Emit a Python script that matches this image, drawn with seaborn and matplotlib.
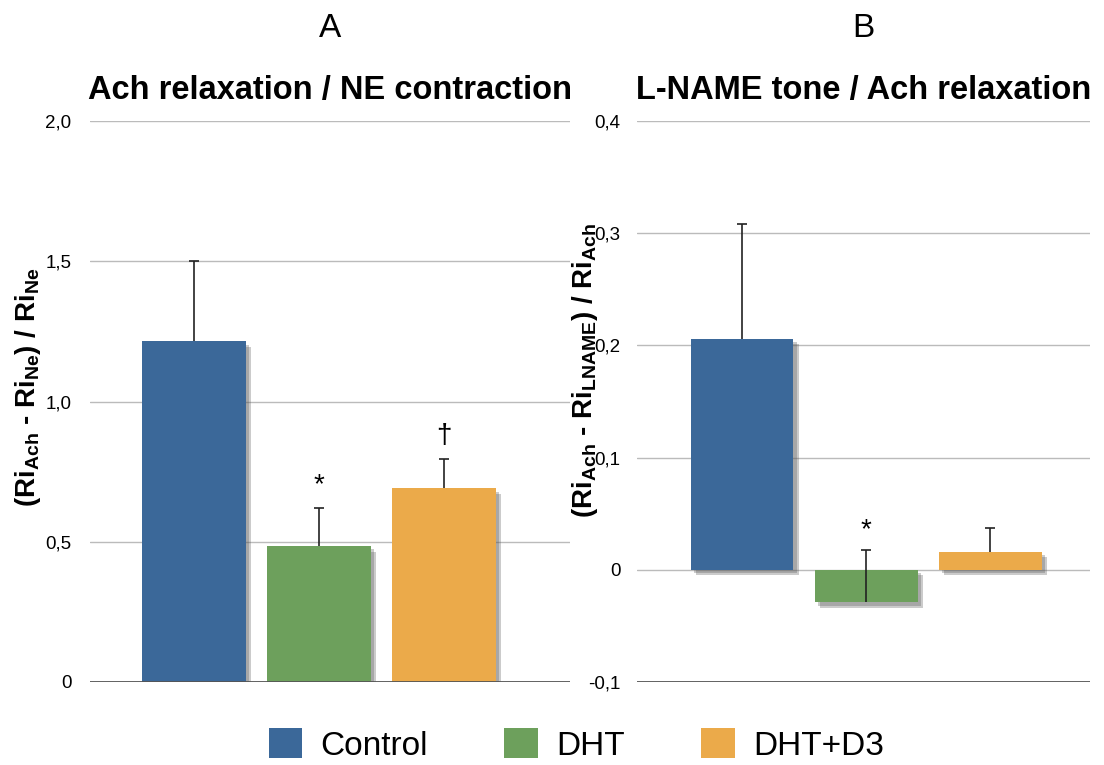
import matplotlib
matplotlib.use("Agg")
import matplotlib.pyplot as plt
import matplotlib.patheffects as pe
from matplotlib.patches import Patch
from matplotlib.ticker import FixedLocator
import seaborn as sns
import pandas as pd
import numpy as np

# ---- data ----
groups = ["Control", "DHT", "DHT+D3"]
colors = ["#3B6899", "#6DA05C", "#EBAA4A"]

a_values = [1.215, 0.485, 0.69]
a_errors = [0.285, 0.135, 0.105]
a_marks = ["", "*", "†"]
a_ticks = [0, 0.5, 1.0, 1.5, 2.0]
a_ticklabels = ["0", "0,5", "1,0", "1,5", "2,0"]

b_values = [0.206, -0.029, 0.016]
b_errors = [0.102, 0.047, 0.021]
b_marks = ["", "*", ""]
b_ticks = [-0.1, 0, 0.1, 0.2, 0.3, 0.4]
b_ticklabels = ["-0,1", "0", "0,1", "0,2", "0,3", "0,4"]

sns.set_theme(style="white")
plt.rcParams["font.family"] = ["Liberation Sans", "DejaVu Sans"]
plt.rcParams["mathtext.default"] = "regular"
plt.rcParams["text.color"] = "black"

fig = plt.figure(figsize=(11.04, 7.65), dpi=100)
axA = fig.add_axes([90 / 1104, 1 - 682 / 765, 480 / 1104, 561 / 765])
axB = fig.add_axes([637 / 1104, 1 - 682 / 765, 453 / 1104, 561 / 765])


def draw(ax, values, errors, marks, ticks, ticklabels, ylim, xlim, letter, title,
         ylabel, mark_offset, label_x, label_y, pad):
    df = pd.DataFrame({"group": groups, "value": values})
    sns.barplot(data=df, x="group", y="value", hue="group", palette=colors,
                width=0.83, legend=False, ax=ax, zorder=3, saturation=1,
                edgecolor="none", linewidth=0)
    for p in ax.patches:
        p.set_path_effects([pe.SimplePatchShadow(offset=(4, -4), shadow_rgbFace="#555555", alpha=0.3),
                            pe.SimplePatchShadow(offset=(2.5, -2.5), shadow_rgbFace="#555555", alpha=0.3),
                            pe.Normal()])
    xs = np.arange(len(values))
    _, caps, _ = ax.errorbar(xs, values, yerr=[np.zeros(len(values)), errors], fmt="none",
                             ecolor="#222222", elinewidth=1.2, capsize=3.5, capthick=1.2,
                             zorder=5)
    if len(caps) == 2:
        caps[0].set_visible(False)
    for x, v, e, m in zip(xs, values, errors, marks):
        if m:
            ax.text(x, v + e + mark_offset, m, ha="center", va="bottom",
                    fontsize=20, color="black", zorder=6)
    ax.set_ylim(*ylim)
    ax.set_xlim(*xlim)
    ax.yaxis.set_major_locator(FixedLocator(ticks))
    ax.set_yticklabels(ticklabels)
    ax.tick_params(axis="y", length=0, pad=pad, labelsize=13.5, colors="black")
    ax.set_xticks([])
    ax.set_xlabel("")
    ax.set_ylabel("")
    for s in ax.spines.values():
        s.set_visible(False)
    for t in ticks:
        if t == ylim[0]:
            ax.axhline(t, color="#555555", lw=1.3, zorder=4)
        else:
            ax.axhline(t, color="#bbbbbb", lw=1.0, zorder=1)
    ax.text(0.5, 1 + 93 / 561, letter, transform=ax.transAxes, ha="center",
            va="center", fontsize=24)
    ax.text(0.5, 1 + 31 / 561, title, transform=ax.transAxes, ha="center",
            va="center", fontsize=23.5, fontweight="bold")
    ax.text(label_x, label_y, ylabel, transform=ax.transAxes, rotation=90,
            ha="center", va="center", fontsize=20, fontweight="bold")


draw(axA, a_values, a_errors, a_marks, a_ticks, a_ticklabels, (0, 2.0),
     (-0.832, 3.008), "A", "Ach relaxation / NE contraction",
     r"(Ri$_{\mathregular{Ach}}$ - Ri$_{\mathregular{Ne}}$) / Ri$_{\mathregular{Ne}}$",
     0.035, -62 / 480, 0.525, 13.5)
draw(axB, b_values, b_errors, b_marks, b_ticks, b_ticklabels, (-0.1, 0.4),
     (-0.847, 2.806), "B", "L-NAME tone / Ach relaxation",
     r"(Ri$_{\mathregular{Ach}}$ - Ri$_{\mathregular{LNAME}}$) / Ri$_{\mathregular{Ach}}$",
     0.006, -52 / 453, 0.555, 12)

handles = [Patch(facecolor=c, edgecolor="none", label=g) for g, c in zip(groups, colors)]
fig.legend(handles=handles, loc="center", bbox_to_anchor=(0.522, 1 - 745 / 765),
           ncol=3, frameon=False, fontsize=24, handlelength=1.0, handleheight=1.0,
           handletextpad=0.55, columnspacing=2.3)

fig.savefig("out.png", dpi=100, facecolor="white")
